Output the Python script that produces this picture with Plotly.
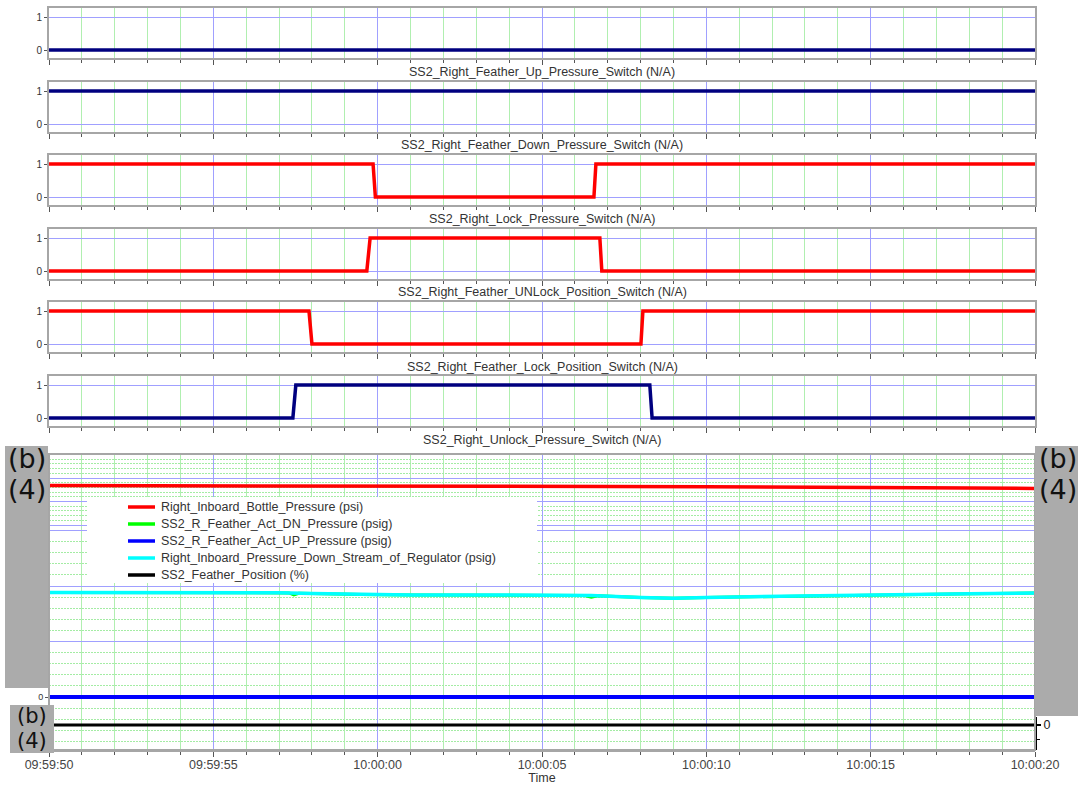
import pandas as pd
import plotly.graph_objects as go

# ---------------------------------------------------------------- data
T0 = pd.Timestamp("2000-01-01 09:59:50")
T1 = pd.Timestamp("2000-01-01 10:00:20")

# Discrete switch channels: seconds after 09:59:50 and switch state
up_switch_t = [0, 30]
up_switch_v = [0, 0]
down_switch_t = [0, 30]
down_switch_v = [1, 1]
lock_press_t = [0, 9.86, 9.93, 16.58, 16.64, 30]
lock_press_v = [1, 1, 0, 0, 1, 1]
unlock_pos_t = [0, 9.67, 9.77, 16.76, 16.82, 30]
unlock_pos_v = [0, 0, 1, 1, 0, 0]
lock_pos_t = [0, 7.91, 8.00, 18.01, 18.07, 30]
lock_pos_v = [1, 1, 0, 0, 1, 1]
unlock_press_t = [0, 7.42, 7.51, 18.28, 18.35, 30]
unlock_press_v = [0, 0, 1, 1, 0, 0]

switch_titles = [
    "SS2_Right_Feather_Up_Pressure_Switch (N/A)",
    "SS2_Right_Feather_Down_Pressure_Switch (N/A)",
    "SS2_Right_Lock_Pressure_Switch (N/A)",
    "SS2_Right_Feather_UNLock_Position_Switch (N/A)",
    "SS2_Right_Feather_Lock_Position_Switch (N/A)",
    "SS2_Right_Unlock_Pressure_Switch (N/A)",
]

# Analog channels
bottle_t = [0, 5, 10, 15, 20, 25, 30]
bottle_psi = [2840, 2838, 2834, 2826, 2815, 2796, 2778]

regulator_t = [0, 5, 7, 8, 9.5, 11, 13, 15, 16.5, 18, 19, 20, 22, 25, 28, 30]
regulator_psig = [377, 377, 376, 373, 369, 368, 368, 368, 366, 359, 356, 359, 363, 367, 372, 375]

act_dn_t = [0, 5, 7, 7.3, 7.45, 7.6, 8, 9.5, 11, 13, 15, 16.3, 16.5, 16.7, 18, 19, 20, 22, 25, 28, 30]
act_dn_psig = [377, 377, 376, 375, 368, 374, 373, 369, 368, 368, 368, 366, 360, 365, 359, 356, 359, 363, 367, 372, 375]

act_up_t = [0, 30]
act_up_psig = [0, 0]

feather_t = [0, 30]
feather_pct = [0, 0]


def at(seconds):
    return [T0 + pd.to_timedelta(s, unit="s") for s in seconds]


# ---------------------------------------------------------------- geometry
W, H = 1078, 785
ML, MR, MT, MB = 49, 43, 8, 35
PW, PH = W - ML - MR, H - MT - MB
BOTTOM = H - MB


def py(pix):
    return (BOTTOM - pix) / PH


def px(pix):
    return (pix - ML) / PW


MAJOR_GRID = "#a0a0ff"
MINOR_GRID = "#b0efb0"
MINOR_GRID_H = "#a4eca4"
FRAME = "#a6a6a6"
TICK = "#555555"
FONT = "Liberation Sans, Arial, sans-serif"
TEXT_SIZE = 12.5

NAVY = "#00007f"
RED = "#ff0000"

fig = go.Figure()

switch_series = [
    (up_switch_t, up_switch_v, NAVY),
    (down_switch_t, down_switch_v, NAVY),
    (lock_press_t, lock_press_v, RED),
    (unlock_pos_t, unlock_pos_v, RED),
    (lock_pos_t, lock_pos_v, RED),
    (unlock_press_t, unlock_press_v, NAVY),
]

panel_tops = [8, 82, 155, 229, 302, 376]
panel_h = 50

xaxis_common = dict(
    type="date",
    range=[T0, T1],
    tick0=T0,
    dtick=5000,
    showgrid=True,
    gridcolor=MAJOR_GRID,
    gridwidth=1,
    ticks="outside",
    ticklen=5,
    tickwidth=1,
    tickcolor=TICK,
    minor=dict(dtick=1000, showgrid=True, gridcolor=MINOR_GRID, gridwidth=1,
               ticks="outside", ticklen=3, tickcolor=TICK),
    zeroline=False,
    automargin=False,
)

layout = {}
for i, ((t, v, color), top) in enumerate(zip(switch_series, panel_tops), start=1):
    fig.add_trace(go.Scatter(
        x=at(t), y=v, mode="lines", line=dict(color=color, width=3.5),
        xaxis=f"x{i}", yaxis=f"y{i}", showlegend=False, hoverinfo="skip",
    ))
    layout[f"xaxis{i}"] = dict(
        xaxis_common, domain=[0, 1], anchor=f"y{i}", matches="x7",
        showticklabels=False, showline=True, linecolor=FRAME, linewidth=2, mirror=True,
    )
    layout[f"yaxis{i}"] = dict(
        domain=[py(top + panel_h), py(top)], anchor=f"x{i}",
        range=[-8 / 33, 1 + 9 / 33], tickmode="array", tickvals=[0, 1], ticktext=["0", "1"],
        showgrid=True, gridcolor=MAJOR_GRID, zeroline=False,
        ticks="outside", ticklen=3, tickcolor=TICK,
        tickfont=dict(family=FONT, size=10, color="#333333"),
        showline=True, linecolor=FRAME, linewidth=2, mirror=True, automargin=False,
    )

# ---------------------------------------------------------------- lower panel
lower_series = [
    (bottle_t, bottle_psi, "Right_Inboard_Bottle_Pressure (psi)", RED, 3.5, "y8"),
    (act_dn_t, act_dn_psig, "SS2_R_Feather_Act_DN_Pressure (psig)", "#00ff00", 3, "y7"),
    (act_up_t, act_up_psig, "SS2_R_Feather_Act_UP_Pressure (psig)", "#0000ff", 4, "y7"),
    (regulator_t, regulator_psig, "Right_Inboard_Pressure_Down_Stream_of_Regulator (psig)",
     "#00ffff", 3.5, "y7"),
    (feather_t, feather_pct, "SS2_Feather_Position (%)", "#000000", 3, "y10"),
]
for t, v, name, color, width, yax in lower_series:
    fig.add_trace(go.Scatter(
        x=at(t), y=v, mode="lines", name=name, line=dict(color=color, width=width),
        xaxis="x7", yaxis=yax, showlegend=False,
    ))

big_top, split, big_bot = 454, 527, 750

layout["xaxis7"] = dict(
    xaxis_common, domain=[0, 1], anchor="y7", tickformat="%H:%M:%S",
    ticklen=5, tickfont=dict(family=FONT, size=TEXT_SIZE, color="#444444"),
    ticklabelstandoff=-3,
    showline=True, linecolor=FRAME, linewidth=2,
    title=dict(text="Time", font=dict(family=FONT, size=TEXT_SIZE, color="#333333"), standoff=3),
)

# pressure scale (psig) – zero line under the blue trace
psig_per_px = 200 / 55.5
layout["yaxis7"] = dict(
    domain=[py(big_bot), py(split)], anchor="x7",
    range=[-(big_bot - 697) * psig_per_px, (697 - split) * psig_per_px],
    tickmode="array", tickvals=[0, 200, 400, 600], ticktext=["0", "", "", ""],
    showgrid=True, gridcolor=MAJOR_GRID, zeroline=False,
    minor=dict(tickmode="linear", tick0=0, dtick=40, showgrid=True,
               gridcolor=MINOR_GRID_H, griddash="2px,1px"),
    ticks="outside", ticklen=3, tickcolor=TICK,
    tickfont=dict(family=FONT, size=9, color="#333333"), automargin=False,
)

# bottle pressure scale (psi)
psi_per_px = 500 / 23.5
layout["yaxis8"] = dict(
    domain=[py(split), py(big_top)], anchor="x7",
    range=[3000 - (split - 478) * psi_per_px, 3000 + (478 - big_top) * psi_per_px],
    dtick=500, tick0=0, showticklabels=False,
    showgrid=True, gridcolor=MAJOR_GRID, zeroline=False,
    minor=dict(dtick=100, showgrid=True, gridcolor=MINOR_GRID_H, griddash="2px,1px"),
    automargin=False,
)

# right-hand scale with inside ticks
r_per_px = 20 / 66
layout["yaxis9"] = dict(
    domain=[py(big_bot), py(big_top)], anchor="x7", side="right",
    range=[-(big_bot - 724) * r_per_px, 80 + (460 - big_top) * r_per_px],
    dtick=20, tick0=0, showticklabels=False, showgrid=False, zeroline=False,
    ticks="inside", ticklen=5, tickwidth=2, tickcolor="#222222",
    minor=dict(dtick=4, ticks="inside", ticklen=2, tickwidth=2, tickcolor="#444444"),
    automargin=False,
)

# feather position (%) mini scale
pct_per_px = 1 / 1.4
layout["yaxis10"] = dict(
    domain=[py(big_bot), py(717)], anchor="x7", side="right",
    range=[-(big_bot - 725) * pct_per_px, (725 - 717) * pct_per_px],
    dtick=50, tick0=0, showgrid=False, zeroline=False,
    showline=True, linecolor="#000000", linewidth=2,
    ticks="outside", ticklen=4, tickwidth=2, tickcolor="#000000",
    minor=dict(dtick=10, ticks="outside", ticklen=3, tickwidth=1, tickcolor="#000000"),
    tickfont=dict(family=FONT, size=TEXT_SIZE, color="#222222"), automargin=False,
)

# ---------------------------------------------------------------- titles, legend, boxes
annotations = []
title_y = [72, 145, 219, 292, 367, 440]
for text, yy in zip(switch_titles, title_y):
    annotations.append(dict(
        text=text, xref="paper", yref="paper", x=0.5, y=py(yy),
        xanchor="center", yanchor="middle", showarrow=False,
        font=dict(family=FONT, size=TEXT_SIZE, color="#333333"),
    ))

shapes = [
    # frame of the lower panel
    dict(type="rect", xref="paper", yref="paper", x0=0, x1=1, y0=0, y1=py(big_top),
         line=dict(color=FRAME, width=2), fillcolor="rgba(0,0,0,0)", layer="above"),
    # legend box
    dict(type="rect", xref="paper", yref="paper", x0=px(87), x1=px(537), y0=py(583), y1=py(497),
         line=dict(width=0), fillcolor="white", layer="above"),
]

# legend entries: colour sample + channel name
legend_row0, legend_step = 507, 17
for k, (_, _, name, color, width, _) in enumerate(lower_series):
    yy = py(legend_row0 + k * legend_step)
    shapes.append(dict(type="line", xref="paper", yref="paper", x0=px(128), x1=px(155),
                       y0=yy, y1=yy, line=dict(color=color, width=3.5), layer="above"))
    annotations.append(dict(
        text=name, xref="paper", yref="paper", x=px(159), y=yy,
        xanchor="left", yanchor="middle", showarrow=False,
        font=dict(family=FONT, size=TEXT_SIZE, color="#333333"),
    ))

GRAY = "#ababab"
boxes = [
    # (x0, x1, y0, y1, label centre x, "(b)" y, "(4)" y, font size)
    (5, 48, 446, 688, 27, 458, 489, 27),
    (1035, 1078, 446, 716, 1058, 458, 489, 27),
    (10, 54, 705, 753, 32, 716, 741, 21),
]
for x0, x1, y0, y1, cx, yb, y4, fs in boxes:
    shapes.append(dict(type="rect", xref="paper", yref="paper",
                       x0=px(x0), x1=px(x1), y0=py(y1), y1=py(y0),
                       line=dict(width=0), fillcolor=GRAY, layer="above"))
    for txt, yy in (("(b)", yb), ("(4)", y4)):
        annotations.append(dict(
            text=txt, xref="paper", yref="paper", x=px(cx), y=py(yy),
            xanchor="center", yanchor="middle", showarrow=False,
            font=dict(family="DejaVu Sans, sans-serif", size=fs, color="#111111"),
        ))

fig.update_layout(
    **layout,
    width=W, height=H,
    margin=dict(l=ML, r=MR, t=MT, b=MB, pad=0, autoexpand=False),
    paper_bgcolor="white",
    plot_bgcolor="rgba(0,0,0,0)",
    font=dict(family=FONT, color="#333333"),
    showlegend=False,
    shapes=shapes,
    annotations=annotations,
)

fig.write_html("out.html")
